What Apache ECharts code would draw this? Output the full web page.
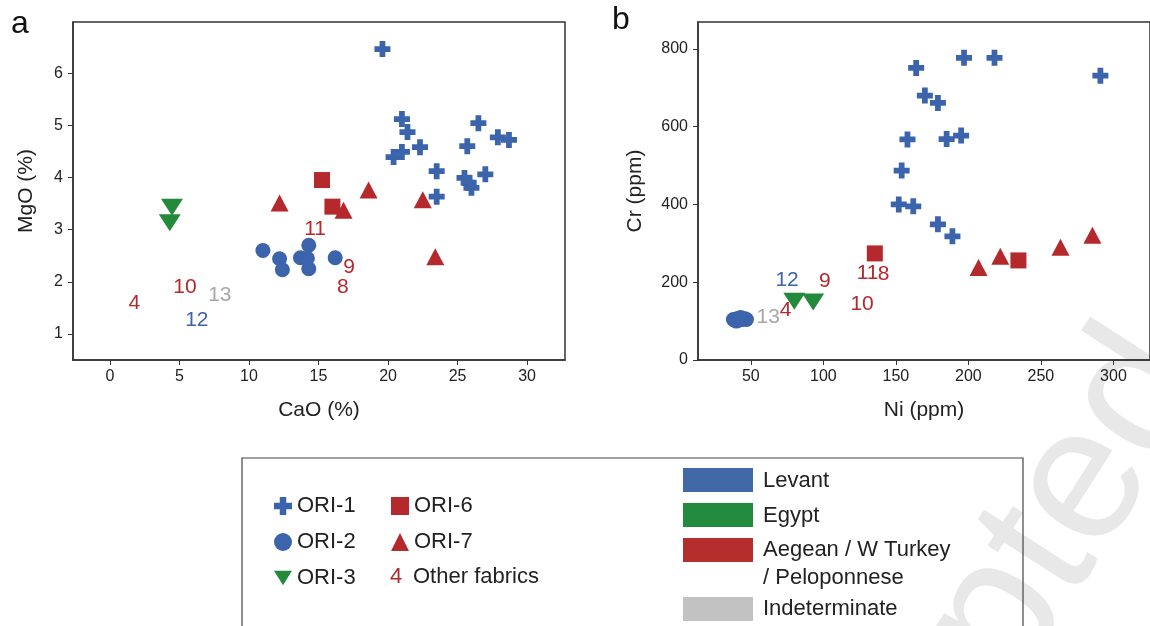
<!DOCTYPE html>
<html>
<head>
<meta charset="utf-8">
<script src="https://cdn.jsdelivr.net/npm/echarts@6/dist/echarts.min.js"></script>
<style>
  html, body { margin: 0; padding: 0; background: #fff; }
  #chart { width: 1150px; height: 626px; }
</style>
</head>
<body>
<div id="chart"></div>
<script>
// panel a: CaO (%) vs MgO (%)
var ori1A = [[19.6, 6.46], [21.0, 5.12], [21.4, 4.87], [21.0, 4.49], [20.4, 4.39], [22.3, 4.58],
  [23.5, 4.12], [23.5, 3.63], [26.5, 5.04], [25.7, 4.60], [27.9, 4.77], [28.7, 4.72],
  [27.0, 4.06], [25.5, 3.99], [25.8, 3.90], [26.0, 3.80]];
var ori2A = [[11.0, 2.60], [12.2, 2.44], [12.4, 2.23], [13.7, 2.46], [14.3, 2.70],
  [14.2, 2.45], [14.3, 2.25], [16.2, 2.46]];
var ori3A = [[4.46, 3.43], [4.3, 3.13]];
var ori6A = [[15.25, 3.95], [16.0, 3.44]];
var ori7A = [[12.2, 3.51], [18.6, 3.76], [16.8, 3.37], [22.5, 3.57], [23.4, 2.48]];
// other fabrics: [x, y, label, provenance]
var otherA = [[1.75, 1.59, '4', 'aegean'], [5.4, 1.9, '10', 'aegean'], [7.9, 1.75, '13', 'indet'],
  [6.25, 1.27, '12', 'levant'], [14.75, 3.0, '11', 'aegean'], [17.2, 2.28, '9', 'aegean'],
  [16.75, 1.9, '8', 'aegean']];

// panel b: Ni (ppm) vs Cr (ppm)
var ori1B = [[164, 751], [197, 777], [218, 777], [291, 731], [170, 680], [179, 661],
  [158, 567], [185, 568], [195, 577], [154, 487], [152, 400], [162, 395], [179, 349], [189, 318]];
var ori2B = [[38, 104], [40, 100], [41, 107], [42, 103], [43, 109], [44, 104], [46, 106], [47, 104]];
var ori3B = [[80, 151], [93, 149]];
var ori6B = [[135.5, 274], [234.5, 256]];
var ori7B = [[207, 238], [222, 267], [263.5, 290], [285.5, 321]];
var otherB = [[75, 205, '12', 'levant'], [101, 203, '9', 'aegean'], [74, 128, '4', 'aegean'],
  [62, 110, '13', 'indet'], [126.7, 144, '10', 'aegean'], [130.5, 223, '11', 'aegean'],
  [141.5, 221, '8', 'aegean']];

var xTicksA = [0, 5, 10, 15, 20, 25, 30];
var yTicksA = [1, 2, 3, 4, 5, 6];
var xTicksB = [50, 100, 150, 200, 250, 300];
var yTicksB = [0, 200, 400, 600, 800];

var regions = ['Levant', 'Egypt', 'Aegean / W Turkey\n/ Peloponnese', 'Indeterminate'];

var BLUE = '#3b64ad', RED = '#b5282c', GREEN = '#23893b', GRAY = '#a8a8a8';
var provColor = { levant: BLUE, aegean: RED, indet: GRAY };
var regionColor = ['#4169a8', '#238b3e', '#b42e2e', '#c2c2c2'];
var FONT = "'Liberation Sans', Arial, sans-serif";

var crossPath = 'path://M3.2,0 H6.8 V3.2 H10 V6.8 H6.8 V10 H3.2 V6.8 H0 V3.2 H3.2 Z';
var downTri = 'path://M0,0 L20,0 L10,16 Z';

var chart = echarts.init(document.getElementById('chart'));

function xAxis(idx, min, max, ticks, name) {
  return {
    gridIndex: idx, type: 'value', min: min, max: max,
    name: name, nameLocation: 'middle', nameGap: 40,
    nameTextStyle: { fontSize: 21, color: '#222', fontFamily: FONT },
    axisLine: { show: true, onZero: false, lineStyle: { color: '#333', width: 1.5 } },
    axisTick: { show: true, length: 5, customValues: ticks, lineStyle: { color: '#333' } },
    axisLabel: { customValues: ticks, fontSize: 16, color: '#222', fontFamily: FONT, margin: 9 },
    splitLine: { show: false }
  };
}
function yAxis(idx, min, max, ticks, name, gap) {
  return {
    gridIndex: idx, type: 'value', min: min, max: max,
    name: name, nameLocation: 'middle', nameGap: gap,
    nameTextStyle: { fontSize: 21, color: '#222', fontFamily: FONT },
    axisLine: { show: true, onZero: false, lineStyle: { color: '#333', width: 1.5 } },
    axisTick: { show: true, length: 5, customValues: ticks, lineStyle: { color: '#333' } },
    axisLabel: { customValues: ticks, fontSize: 16, color: '#222', fontFamily: FONT, margin: 10 },
    splitLine: { show: false }
  };
}

function pts(name, idx, data, symbol, size, color, z) {
  return {
    name: name, type: 'scatter', xAxisIndex: idx, yAxisIndex: idx,
    data: data, symbol: symbol, symbolSize: size, z: z || 2,
    itemStyle: { color: color, opacity: 1 }
  };
}
function others(idx, list) {
  return {
    name: 'Other fabrics', type: 'scatter', xAxisIndex: idx, yAxisIndex: idx, symbolSize: 1,
    itemStyle: { color: 'rgba(0,0,0,0)', opacity: 1 }, z: 5,
    data: list.map(function (d) {
      return {
        value: [d[0], d[1]], name: d[2],
        label: { show: true, position: 'inside', formatter: d[2], color: provColor[d[3]],
          fontSize: 21, fontFamily: FONT }
      };
    })
  };
}

var graphics = [
  { type: 'text', left: 11, top: 8, style: { text: 'a', font: '32px ' + FONT, fill: '#111' } },
  { type: 'text', left: 612, top: 4, style: { text: 'b', font: '32px ' + FONT, fill: '#111' } },
  { type: 'rect', shape: { x: 242, y: 458, width: 781, height: 200 },
    style: { fill: 'none', stroke: '#444', lineWidth: 1.2 } },
  { type: 'text', x: 396, y: 577, style: { text: '4', font: '22px ' + FONT, fill: RED,
    align: 'center', verticalAlign: 'middle' } },
  { type: 'text', x: 413, y: 577, style: { text: 'Other fabrics', font: '22px ' + FONT, fill: '#222',
    verticalAlign: 'middle' } }
];
var patchY = [468, 503, 538, 597];
var textY = [481, 516, 564, 609];
regions.forEach(function (r, i) {
  graphics.push({ type: 'rect', shape: { x: 683, y: patchY[i], width: 70, height: 24 },
    style: { fill: regionColor[i] } });
  graphics.push({ type: 'text', x: 763, y: textY[i], style: { text: r, font: '22px ' + FONT,
    fill: '#222', verticalAlign: 'middle', lineHeight: 28 } });
});
// watermark
graphics.unshift({ type: 'text', x: 955, y: 685, rotation: 1.0, z: -10,
  style: { text: 'Accepted', font: '190px ' + FONT, fill: '#e8e8e8',
    align: 'center', verticalAlign: 'middle' } });

chart.setOption({
  animation: false,
  backgroundColor: '#fff',
  grid: [
    { left: 73, top: 22, width: 492, height: 338, show: true, borderColor: '#333', borderWidth: 1.5 },
    { left: 698, top: 22, width: 462, height: 338, show: true, borderColor: '#333', borderWidth: 1.5 }
  ],
  xAxis: [
    xAxis(0, -2.66, 32.73, xTicksA, 'CaO (%)'),
    xAxis(1, 13.6, 325.2, xTicksB, 'Ni (ppm)')
  ],
  yAxis: [
    yAxis(0, 0.5, 6.98, yTicksA, 'MgO (%)', 36),
    yAxis(1, 0, 869, yTicksB, 'Cr (ppm)', 52)
  ],
  legend: [
    { data: ['ORI-1', 'ORI-2', 'ORI-3'], orient: 'vertical', left: 269, top: 490,
      itemWidth: 18, itemHeight: 18, itemGap: 14, selectedMode: false,
      textStyle: { fontSize: 22, color: '#222', fontFamily: FONT } },
    { data: ['ORI-6', 'ORI-7'], orient: 'vertical', left: 386, top: 490,
      itemWidth: 18, itemHeight: 18, itemGap: 14, selectedMode: false,
      textStyle: { fontSize: 22, color: '#222', fontFamily: FONT } }
  ],
  graphic: graphics,
  series: [
    pts('ORI-1', 0, ori1A, crossPath, 16, BLUE, 3),
    pts('ORI-2', 0, ori2A, 'circle', 15, BLUE),
    pts('ORI-3', 0, ori3A, downTri, [22, 17], GREEN),
    pts('ORI-6', 0, ori6A, 'rect', 16, RED),
    pts('ORI-7', 0, ori7A, 'triangle', [18, 17], RED),
    others(0, otherA),
    pts('ORI-1', 1, ori1B, crossPath, 16, BLUE, 3),
    pts('ORI-2', 1, ori2B, 'circle', 15, BLUE),
    pts('ORI-3', 1, ori3B, downTri, [22, 17], GREEN),
    pts('ORI-6', 1, ori6B, 'rect', 16, RED),
    pts('ORI-7', 1, ori7B, 'triangle', [18, 17], RED),
    others(1, otherB)
  ]
});
</script>
</body>
</html>
